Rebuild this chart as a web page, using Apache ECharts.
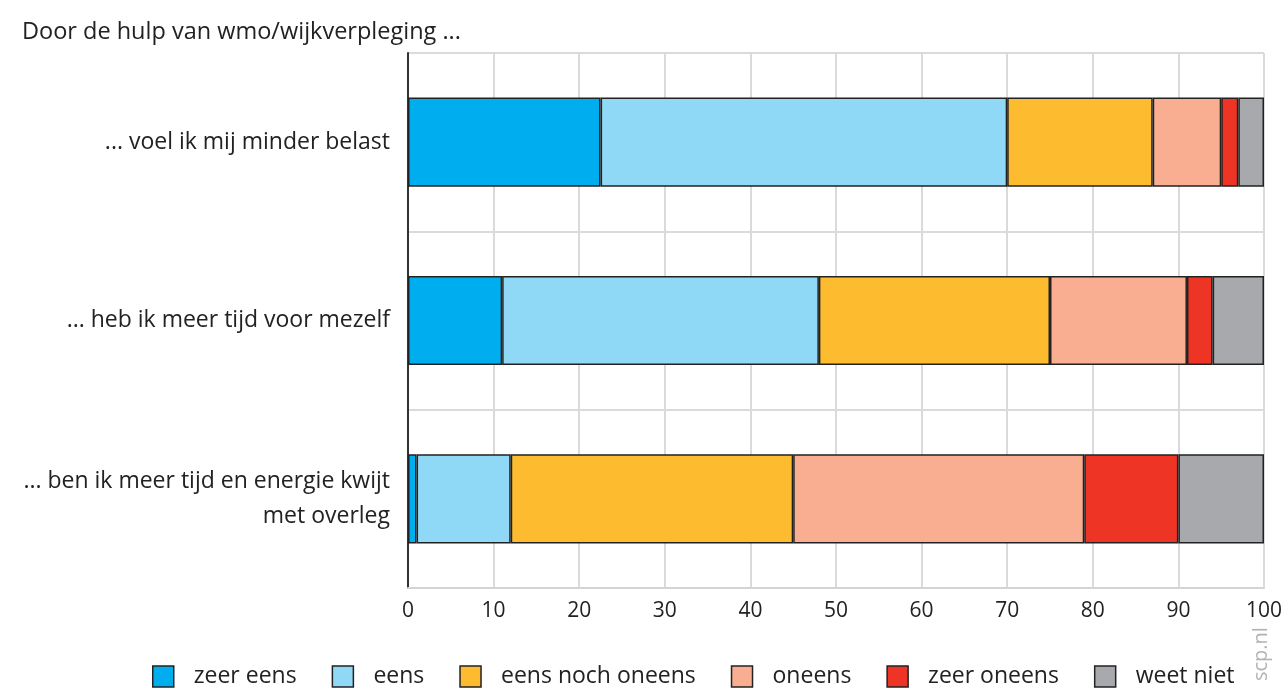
<!DOCTYPE html>
<html>
<head>
<meta charset="utf-8">
<script src="https://cdn.jsdelivr.net/npm/echarts@6/dist/echarts.min.js"></script>
<style>
  html, body { margin: 0; padding: 0; background: #fff; }
  #chart { width: 1287px; height: 688px; }
</style>
</head>
<body>
<div id="chart"></div>
<script>
const categories = [
  '... voel ik mij minder belast',
  '... heb ik meer tijd voor mezelf',
  '... ben ik meer tijd en energie kwijt\nmet overleg'
];
const seriesNames = ['zeer eens', 'eens', 'eens noch oneens', 'oneens', 'zeer oneens', 'weet niet'];
const colors = ['#00aeef', '#8fd8f6', '#fdbb30', '#f9ae91', '#ee3424', '#a7a9ac'];

// percentages per statement (top to bottom)
const zeerEens = [22.5, 11, 1];
const eens = [47.5, 37, 11];
const eensNochOneens = [17, 27, 33];
const oneens = [8, 16, 34];
const zeerOneens = [2, 3, 11];
const weetNiet = [3, 6, 10];

const values = [zeerEens, eens, eensNochOneens, oneens, zeerOneens, weetNiet];
const fontFamily = '"Open Sans", "Noto Sans", sans-serif';

const chart = echarts.init(document.getElementById('chart'));

const option = {
  backgroundColor: '#fff',
  textStyle: { fontFamily: fontFamily },
  title: {
    text: 'Door de hulp van wmo/wijkverpleging ...',
    left: 17,
    top: 15,
    textStyle: { fontFamily: fontFamily, fontSize: 23.5, fontWeight: 'normal', color: '#222' }
  },
  legend: {
    data: seriesNames,
    left: 152,
    top: 665,
    padding: 0,
    itemWidth: 21,
    itemHeight: 21,
    itemGap: 35,
    icon: 'rect',
    itemStyle: { borderColor: '#222', borderWidth: 1.5 },
    textStyle: { fontFamily: fontFamily, fontSize: 23, color: '#222', padding: [0, 0, 0, 15] }
  },
  grid: {
    left: 408,
    right: 23,
    top: 53,
    bottom: 100,
    containLabel: false
  },
  xAxis: {
    type: 'value',
    min: 0,
    max: 100,
    interval: 10,
    axisLine: { show: true, lineStyle: { color: '#d4d4d4', width: 2 } },
    axisTick: { show: false },
    axisLabel: { fontFamily: fontFamily, fontSize: 21, color: '#222', margin: 13 },
    splitLine: { show: true, lineStyle: { color: '#dadada', width: 2 } }
  },
  yAxis: {
    type: 'category',
    data: categories,
    inverse: true,
    axisLine: { show: true, lineStyle: { color: '#333', width: 2 } },
    axisTick: { show: false },
    axisLabel: {
      fontFamily: fontFamily,
      fontSize: 23,
      color: '#222',
      margin: 18,
      align: 'right',
      lineHeight: 35
    },
    splitLine: { show: true, lineStyle: { color: '#dadada', width: 2 } }
  },
  series: seriesNames.map((name, i) => ({
    name: name,
    type: 'bar',
    stack: 'total',
    data: values[i],
    barCategoryGap: '50%',
    itemStyle: { color: colors[i], borderColor: '#222', borderWidth: 1.5 }
  })),
  graphic: [
    {
      type: 'text',
      x: 1261,
      y: 681,
      rotation: Math.PI / 2,
      style: {
        text: 'scp.nl',
        fontFamily: fontFamily,
        fontSize: 20,
        fill: '#b3b3b3',
        textAlign: 'left',
        textVerticalAlign: 'middle'
      }
    }
  ]
};

chart.setOption(option);
</script>
</body>
</html>
